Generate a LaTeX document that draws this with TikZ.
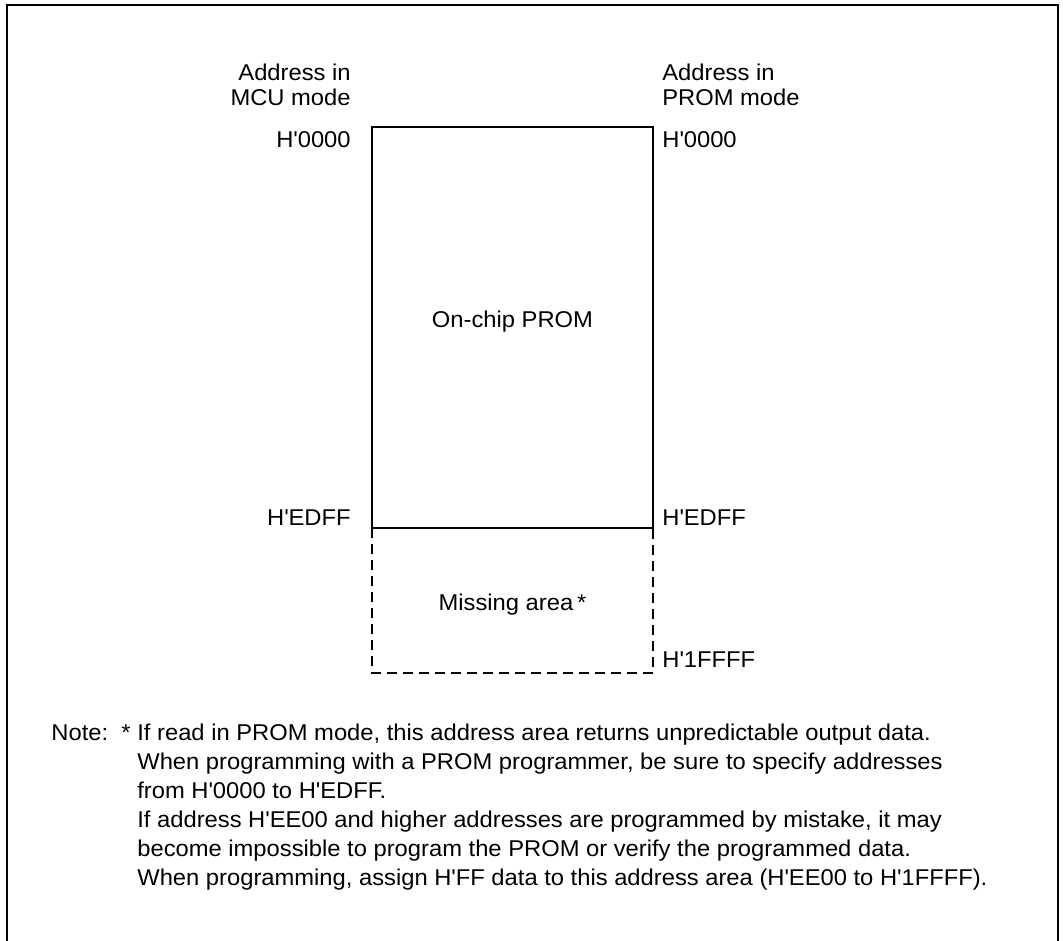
\documentclass[tikz,border=0pt]{standalone}
\usepackage{fontspec}
\setmainfont{Liberation Sans}[FakeStretch=1.04]
\newcommand{\addr}[1]{H\textquotesingle #1}
\begin{document}
\begin{tikzpicture}[
  x=0.02cm, y=-0.02cm,
  lbl/.style={inner sep=0pt, font=\fontsize{13}{16}\selectfont},
  lleft/.style={lbl, anchor=base east},
  lright/.style={lbl, anchor=base west},
  note/.style={lbl, anchor=base west},
  area/.style={line width=1.1pt},
  missing/.style={line width=1.1pt, dash pattern=on 0.2cm off 0.12cm}
]
  \useasboundingbox (0,0) rectangle (1063,941);

  % Outer frame (open at the bottom)
  \draw[line width=0.8pt] (7,941) -- (7,5) -- (1058,5) -- (1058,941);

  % Memory areas
  \coordinate (tl) at (372,127);
  \coordinate (tr) at (653,127);
  \coordinate (bl) at (372,528);
  \coordinate (br) at (653,528);
  \coordinate (ml) at (372,673);
  \coordinate (mr) at (653,673);
  \draw[area] (tl) rectangle (br);
  \draw[missing] (bl) -- (ml) -- (mr) -- (br);
  \node[lbl, anchor=base] (prom) at (512.5,327) {On-chip PROM};
  \node[lbl, anchor=base] (miss) at (512.5,610) {Missing area\,*};

  % Left column: MCU mode
  \node[lleft] (mcu1) at (351,80) {Address in};
  \node[lleft] (mcu2) at (351,105) {MCU mode};
  \node[lleft] (mtop) at (351,147) {\addr{0000}};
  \node[lleft] (mend) at (351,525) {\addr{EDFF}};

  % Right column: PROM mode
  \node[lright] (pm1) at (662,80) {Address in};
  \node[lright] (pm2) at (662,105) {PROM mode};
  \node[lright] (ptop) at (662,147) {\addr{0000}};
  \node[lright] (pend) at (662,525) {\addr{EDFF}};
  \node[lright] (plast) at (662,667) {\addr{1FFFF}};

  % Note
  \node[lbl, anchor=base east] (nhead) at (131,740) {Note:\ \ *};
  \node[note] (n1) at (137,740) {If read in PROM mode, this address area returns unpredictable output data.};
  \node[note] (n2) at (137,769) {When programming with a PROM programmer, be sure to specify addresses};
  \node[note] (n3) at (137,798) {from \addr{0000} to \addr{EDFF}.};
  \node[note] (n4) at (137,827) {If address \addr{EE00} and higher addresses are programmed by mistake, it may};
  \node[note] (n5) at (137,856) {become impossible to program the PROM or verify the programmed data.};
  \node[note] (n6) at (137,885) {When programming, assign \addr{FF} data to this address area (\addr{EE00} to \addr{1FFFF}).};

\end{tikzpicture}
\end{document}
